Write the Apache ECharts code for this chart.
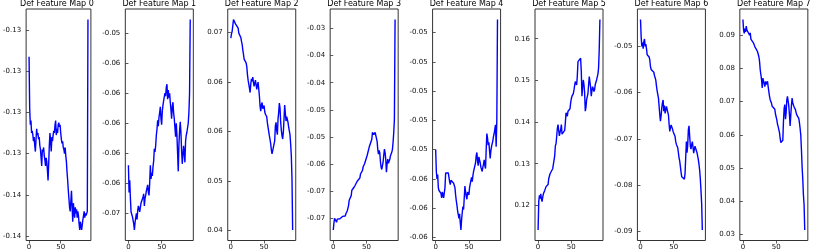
<!DOCTYPE html>
<html><head><meta charset="utf-8">
<script src="https://cdn.jsdelivr.net/npm/echarts@6/dist/echarts.min.js"></script>
<style>html,body{margin:0;padding:0;background:#fff}#c{width:814px;height:251px}</style>
</head><body><div id="c"></div>
<script>
const titles = ['Def Feature Map 0','Def Feature Map 1','Def Feature Map 2','Def Feature Map 3','Def Feature Map 4','Def Feature Map 5','Def Feature Map 6','Def Feature Map 7'];

const map0 = [-0.1293,-0.1318,-0.1326,-0.1324,-0.1330,-0.1329,-0.1331,-0.1334,-0.1332,-0.1336,-0.1339,-0.1333,-0.1328,-0.1331,-0.1330,-0.1333,-0.1332,-0.1336,-0.1338,-0.1342,-0.1346,-0.1338,-0.1339,-0.1337,-0.1341,-0.1343,-0.1346,-0.1342,-0.1344,-0.1348,-0.1353,-0.1345,-0.1336,-0.1330,-0.1334,-0.1339,-0.1332,-0.1334,-0.1331,-0.1329,-0.1330,-0.1326,-0.1324,-0.1331,-0.1328,-0.1330,-0.1326,-0.1325,-0.1327,-0.1326,-0.1330,-0.1333,-0.1335,-0.1334,-0.1337,-0.1338,-0.1340,-0.1337,-0.1341,-0.1344,-0.1349,-0.1353,-0.1358,-0.1362,-0.1366,-0.1368,-0.1363,-0.1358,-0.1366,-0.1373,-0.1364,-0.1368,-0.1371,-0.1366,-0.1369,-0.1367,-0.1371,-0.1368,-0.1370,-0.1374,-0.1377,-0.1373,-0.1375,-0.1377,-0.1377,-0.1372,-0.1370,-0.1368,-0.1371,-0.1369,-0.1370,-0.1369,-0.1368,-0.1275];
const map1 = [-0.0628,-0.0646,-0.0638,-0.0650,-0.0659,-0.0660,-0.0662,-0.0661,-0.0667,-0.0671,-0.0666,-0.0663,-0.0660,-0.0664,-0.0658,-0.0655,-0.0654,-0.0659,-0.0656,-0.0653,-0.0652,-0.0654,-0.0649,-0.0647,-0.0655,-0.0650,-0.0648,-0.0645,-0.0643,-0.0641,-0.0646,-0.0648,-0.0640,-0.0628,-0.0637,-0.0633,-0.0635,-0.0629,-0.0625,-0.0617,-0.0619,-0.0615,-0.0608,-0.0604,-0.0598,-0.0602,-0.0596,-0.0593,-0.0589,-0.0597,-0.0601,-0.0592,-0.0588,-0.0585,-0.0586,-0.0580,-0.0582,-0.0576,-0.0574,-0.0584,-0.0578,-0.0583,-0.0580,-0.0586,-0.0591,-0.0597,-0.0589,-0.0586,-0.0593,-0.0597,-0.0603,-0.0609,-0.0600,-0.0608,-0.0620,-0.0632,-0.0614,-0.0605,-0.0599,-0.0606,-0.0618,-0.0627,-0.0621,-0.0615,-0.0620,-0.0626,-0.0612,-0.0608,-0.0606,-0.0607,-0.0600,-0.0593,-0.0580,-0.0531];
const map2 = [0.0711,0.0718,0.0722,0.0724,0.0741,0.0738,0.0739,0.0734,0.0733,0.0735,0.0734,0.0727,0.0719,0.0720,0.0716,0.0712,0.0706,0.0701,0.0692,0.0685,0.0677,0.0680,0.0676,0.0671,0.0665,0.0652,0.0643,0.0640,0.0630,0.0623,0.0637,0.0645,0.0641,0.0648,0.0640,0.0633,0.0638,0.0643,0.0636,0.0628,0.0635,0.0640,0.0643,0.0617,0.0601,0.0593,0.0603,0.0607,0.0597,0.0600,0.0602,0.0592,0.0588,0.0585,0.0584,0.0574,0.0567,0.0560,0.0553,0.0547,0.0540,0.0530,0.0524,0.0524,0.0526,0.0527,0.0545,0.0569,0.0575,0.0562,0.0555,0.0580,0.0591,0.0606,0.0598,0.0575,0.0562,0.0553,0.0548,0.0559,0.0580,0.0603,0.0590,0.0577,0.0584,0.0582,0.0575,0.0567,0.0566,0.0555,0.0540,0.0521,0.0484,0.0401];
const map3 = [-0.0746,-0.0731,-0.0720,-0.0722,-0.0724,-0.0729,-0.0722,-0.0720,-0.0726,-0.0723,-0.0721,-0.0719,-0.0719,-0.0717,-0.0716,-0.0714,-0.0713,-0.0714,-0.0715,-0.0710,-0.0706,-0.0704,-0.0698,-0.0692,-0.0680,-0.0679,-0.0680,-0.0670,-0.0658,-0.0656,-0.0658,-0.0652,-0.0651,-0.0647,-0.0644,-0.0645,-0.0638,-0.0640,-0.0636,-0.0634,-0.0631,-0.0622,-0.0618,-0.0620,-0.0614,-0.0606,-0.0603,-0.0600,-0.0598,-0.0604,-0.0596,-0.0581,-0.0585,-0.0578,-0.0563,-0.0565,-0.0560,-0.0559,-0.0545,-0.0530,-0.0527,-0.0535,-0.0532,-0.0530,-0.0534,-0.0532,-0.0550,-0.0568,-0.0578,-0.0570,-0.0575,-0.0595,-0.0607,-0.0612,-0.0614,-0.0596,-0.0580,-0.0567,-0.0575,-0.0590,-0.0618,-0.0600,-0.0589,-0.0598,-0.0596,-0.0590,-0.0582,-0.0581,-0.0574,-0.0568,-0.0552,-0.0530,-0.0501,-0.0280];
const map4 = [-0.0540,-0.0555,-0.0560,-0.0557,-0.0566,-0.0568,-0.0567,-0.0568,-0.0570,-0.0573,-0.0569,-0.0570,-0.0573,-0.0572,-0.0566,-0.0556,-0.0555,-0.0556,-0.0555,-0.0556,-0.0559,-0.0562,-0.0564,-0.0561,-0.0562,-0.0560,-0.0560,-0.0563,-0.0564,-0.0566,-0.0571,-0.0575,-0.0578,-0.0582,-0.0583,-0.0587,-0.0584,-0.0590,-0.0595,-0.0588,-0.0583,-0.0579,-0.0581,-0.0573,-0.0565,-0.0569,-0.0572,-0.0574,-0.0569,-0.0570,-0.0571,-0.0566,-0.0565,-0.0561,-0.0559,-0.0562,-0.0558,-0.0555,-0.0553,-0.0552,-0.0549,-0.0544,-0.0542,-0.0548,-0.0551,-0.0545,-0.0547,-0.0549,-0.0552,-0.0553,-0.0555,-0.0552,-0.0550,-0.0547,-0.0551,-0.0553,-0.0540,-0.0529,-0.0532,-0.0537,-0.0535,-0.0536,-0.0546,-0.0541,-0.0538,-0.0538,-0.0534,-0.0531,-0.0529,-0.0526,-0.0523,-0.0538,-0.0520,-0.0451];
const map5 = [0.1141,0.1209,0.1224,0.1216,0.1228,0.1216,0.1209,0.1220,0.1228,0.1224,0.1236,0.1240,0.1245,0.1248,0.1246,0.1250,0.1264,0.1270,0.1276,0.1274,0.1276,0.1280,0.1288,0.1292,0.1290,0.1319,0.1343,0.1348,0.1351,0.1385,0.1394,0.1380,0.1367,0.1375,0.1382,0.1394,0.1371,0.1375,0.1373,0.1371,0.1380,0.1398,0.1422,0.1418,0.1414,0.1426,0.1430,0.1428,0.1432,0.1446,0.1456,0.1462,0.1460,0.1468,0.1477,0.1488,0.1497,0.1493,0.1489,0.1510,0.1545,0.1546,0.1544,0.1548,0.1553,0.1521,0.1462,0.1485,0.1501,0.1490,0.1470,0.1426,0.1435,0.1454,0.1450,0.1468,0.1490,0.1509,0.1496,0.1484,0.1462,0.1475,0.1485,0.1480,0.1473,0.1478,0.1490,0.1494,0.1501,0.1500,0.1515,0.1530,0.1575,0.1646];
const map6 = [-0.0442,-0.0480,-0.0500,-0.0492,-0.0505,-0.0490,-0.0484,-0.0500,-0.0495,-0.0505,-0.0518,-0.0516,-0.0522,-0.0523,-0.0530,-0.0544,-0.0550,-0.0551,-0.0549,-0.0548,-0.0556,-0.0563,-0.0566,-0.0573,-0.0586,-0.0596,-0.0604,-0.0612,-0.0630,-0.0648,-0.0662,-0.0650,-0.0633,-0.0622,-0.0616,-0.0640,-0.0628,-0.0645,-0.0638,-0.0630,-0.0628,-0.0630,-0.0648,-0.0668,-0.0684,-0.0676,-0.0670,-0.0673,-0.0678,-0.0684,-0.0687,-0.0684,-0.0695,-0.0706,-0.0712,-0.0714,-0.0719,-0.0730,-0.0741,-0.0748,-0.0760,-0.0772,-0.0782,-0.0783,-0.0782,-0.0784,-0.0787,-0.0775,-0.0740,-0.0706,-0.0730,-0.0714,-0.0680,-0.0672,-0.0695,-0.0716,-0.0722,-0.0712,-0.0706,-0.0718,-0.0731,-0.0722,-0.0716,-0.0721,-0.0725,-0.0730,-0.0734,-0.0745,-0.0755,-0.0768,-0.0787,-0.0812,-0.0840,-0.0897];
const map7 = [0.0947,0.0915,0.0905,0.0920,0.0910,0.0927,0.0915,0.0917,0.0908,0.0913,0.0900,0.0907,0.0888,0.0889,0.0890,0.0885,0.0876,0.0870,0.0865,0.0861,0.0858,0.0853,0.0850,0.0845,0.0835,0.0821,0.0796,0.0790,0.0766,0.0741,0.0771,0.0768,0.0770,0.0745,0.0761,0.0752,0.0757,0.0761,0.0744,0.0730,0.0716,0.0706,0.0711,0.0695,0.0686,0.0691,0.0684,0.0680,0.0677,0.0662,0.0657,0.0645,0.0632,0.0625,0.0622,0.0607,0.0590,0.0577,0.0582,0.0579,0.0584,0.0642,0.0680,0.0691,0.0647,0.0667,0.0705,0.0716,0.0721,0.0687,0.0660,0.0627,0.0660,0.0690,0.0711,0.0695,0.0690,0.0684,0.0688,0.0676,0.0667,0.0660,0.0657,0.0662,0.0650,0.0637,0.0620,0.0600,0.0557,0.0505,0.0468,0.0420,0.0389,0.0314];

const yTicks0 = [-0.128,-0.130,-0.132,-0.134,-0.136,-0.138];
const yTicks1 = [-0.054,-0.056,-0.058,-0.060,-0.062,-0.064,-0.066];
const yTicks2 = [0.072,0.064,0.056,0.048,0.040];
const yTicks3 = [-0.030,-0.036,-0.042,-0.048,-0.054,-0.060,-0.066,-0.072];
const yTicks4 = [-0.046,-0.048,-0.050,-0.052,-0.054,-0.056,-0.058,-0.060];
const yTicks5 = [0.16,0.15,0.14,0.13,0.12];
const yTicks6 = [-0.05,-0.06,-0.07,-0.08,-0.09];
const yTicks7 = [0.09,0.08,0.07,0.06,0.05,0.04,0.03];
const xTicks = [0, 50];

const maps = [map0,map1,map2,map3,map4,map5,map6,map7];
const yTicks = [yTicks0,yTicks1,yTicks2,yTicks3,yTicks4,yTicks5,yTicks6,yTicks7];

const chart = echarts.init(document.getElementById('c'), null, {renderer:'canvas'});
const LEFT0 = 22.9, STEP = 102.42, W = 68, TOP = 9, H = 233;
const FONT = 'DejaVu Sans';
const grids=[], xAxes=[], yAxes=[], series=[], graphics=[];
maps.forEach((vals,k)=>{
  const left = LEFT0 + STEP*k;
  grids.push({left:left, top:TOP, width:W, height:H, show:true, borderColor:'#333', borderWidth:1, backgroundColor:'rgba(0,0,0,0)'});
  const n = vals.length - 1;
  xAxes.push({gridIndex:k, type:'value', min:-0.05*n, max:1.05*n,
    axisLine:{show:false}, splitLine:{show:false},
    axisTick:{show:true, customValues:xTicks, length:3, lineStyle:{color:'#333', width:0.8}},
    axisLabel:{customValues:xTicks, fontSize:7, fontFamily:FONT, color:'#111', margin:3.5}});
  const lo = Math.min(...vals), hi = Math.max(...vals), pad = (hi-lo)*0.05;
  yAxes.push({gridIndex:k, type:'value', min:lo-pad, max:hi+pad,
    axisLine:{show:false}, splitLine:{show:false},
    axisTick:{show:true, customValues:yTicks[k], length:3, lineStyle:{color:'#333', width:0.8}},
    axisLabel:{customValues:yTicks[k], fontSize:7, fontFamily:FONT, color:'#111', margin:5,
      formatter:(v)=>Number(v).toFixed(2)}});
  series.push({type:'line', xAxisIndex:k, yAxisIndex:k, data: vals.map((v,i)=>[i,v]),
    showSymbol:false, symbol:'none', lineStyle:{color:'#0000ff', width:1.4}, animation:false});
  graphics.push({type:'text', x:left + W/2, y:0,
    style:{text:titles[k], fill:'#000', font:'8px "DejaVu Sans"', align:'center', verticalAlign:'top'}});
});
chart.setOption({animation:false, grid:grids, xAxis:xAxes, yAxis:yAxes, series:series, graphic:graphics});
</script></body></html>
